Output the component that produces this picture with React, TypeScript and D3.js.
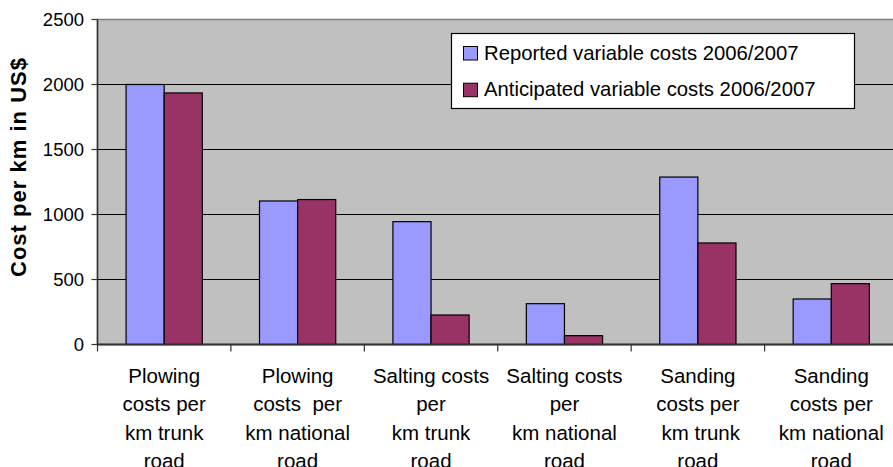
import React from "react";
import * as d3 from "d3";

const categories: string[][] = [
  ["Plowing", "costs per", "km trunk", "road"],
  ["Plowing", "costs  per", "km national", "road"],
  ["Salting costs", "per", "km trunk", "road"],
  ["Salting costs", "per", "km national", "road"],
  ["Sanding", "costs per", " km trunk", "road"],
  ["Sanding", "costs per", "km national", "road"],
];
const reported: number[] = [2000, 1104, 945, 314, 1288, 350];
const anticipated: number[] = [1935, 1115, 227, 68, 781, 468];
const seriesNames: string[] = [
  "Reported variable costs 2006/2007",
  "Anticipated variable costs 2006/2007",
];
const colors: string[] = ["#9999FF", "#993366"];
const yTicks: number[] = [0, 500, 1000, 1500, 2000, 2500];

const W = 893;
const H = 467;
const plot = { left: 97.5, right: 898, top: 19.5, bottom: 344.5 };
const FONT = "Arial, 'Liberation Sans', sans-serif";

export default function App() {
  const x = d3
    .scaleBand<number>()
    .domain(d3.range(categories.length))
    .range([plot.left, plot.right]);
  const bw = x.bandwidth() / 3.5; // gap width 150%
  const y = d3.scaleLinear().domain([0, 2500]).range([plot.bottom, plot.top]);
  const series = [reported, anticipated];

  return (
    <svg
      width={W}
      height={H}
      style={{ position: "fixed", left: 0, top: 0, background: "#fff" }}
      fontFamily={FONT}
    >
      <rect x={0} y={0} width={W} height={H} fill="#fff" />
      <rect
        x={plot.left}
        y={plot.top}
        width={plot.right - plot.left}
        height={plot.bottom - plot.top}
        fill="#C0C0C0"
        stroke="#808080"
        strokeWidth={1.5}
      />
      {yTicks
        .filter((t) => t > 0 && t < 2500)
        .map((t) => (
          <line
            key={"g" + t}
            x1={plot.left}
            x2={plot.right}
            y1={y(t)}
            y2={y(t)}
            stroke="#000"
            strokeWidth={1}
          />
        ))}
      {series.map((vals, si) =>
        vals.map((v, i) => {
          const x0 = (x(i) as number) + bw * 0.75 + si * bw;
          return (
            <rect
              key={"b" + si + "-" + i}
              x={x0}
              y={y(v)}
              width={bw}
              height={y(0) - y(v)}
              fill={colors[si]}
              stroke="#000"
              strokeWidth={1.2}
            />
          );
        })
      )}
      {/* axes */}
      <line x1={plot.left} x2={plot.left} y1={plot.top} y2={plot.bottom} stroke="#333" strokeWidth={1.5} />
      <line x1={plot.left} x2={plot.right} y1={plot.bottom} y2={plot.bottom} stroke="#333" strokeWidth={1.8} />
      {yTicks.map((t) => (
        <g key={"yt" + t}>
          <line x1={plot.left - 6} x2={plot.left} y1={y(t)} y2={y(t)} stroke="#333" strokeWidth={1.2} />
          <text x={84} y={y(t)} dy="0.36em" textAnchor="end" fontSize={18.5} fill="#000">
            {t}
          </text>
        </g>
      ))}
      {d3.range(categories.length + 1).map((i) => {
        const xx = plot.left + i * x.step();
        return (
          <line key={"xt" + i} x1={xx} x2={xx} y1={plot.bottom} y2={plot.bottom + 7} stroke="#333" strokeWidth={1.2} />
        );
      })}
      {categories.map((lines, i) => (
        <text
          key={"c" + i}
          x={(x(i) as number) + x.bandwidth() / 2}
          textAnchor="middle"
          fontSize={20.5}
          fill="#000"
          style={{ whiteSpace: "pre" }}
        >
          {lines.map((l, j) => (
            <tspan key={j} x={(x(i) as number) + x.bandwidth() / 2} y={383 + j * 28.3}>
              {l}
            </tspan>
          ))}
        </text>
      ))}
      <text
        transform={`translate(26,167.5) rotate(-90)`}
        textAnchor="middle"
        fontSize={22}
        fontWeight="bold"
        fill="#000"
        textLength={219}
        lengthAdjust="spacing"
      >
        Cost per km in US$
      </text>
      {/* legend */}
      <rect x={451.5} y={33.5} width={403} height={75} fill="#fff" stroke="#000" strokeWidth={1.2} />
      {seriesNames.map((n, i) => (
        <g key={"l" + i}>
          <rect x={463.5} y={46.5 + i * 36.7} width={14} height={13.5} fill={colors[i]} stroke="#000" strokeWidth={1} />
          <text x={484} y={59.5 + i * 36.7} fontSize={20.3} fill="#000">
            {n}
          </text>
        </g>
      ))}
    </svg>
  );
}
